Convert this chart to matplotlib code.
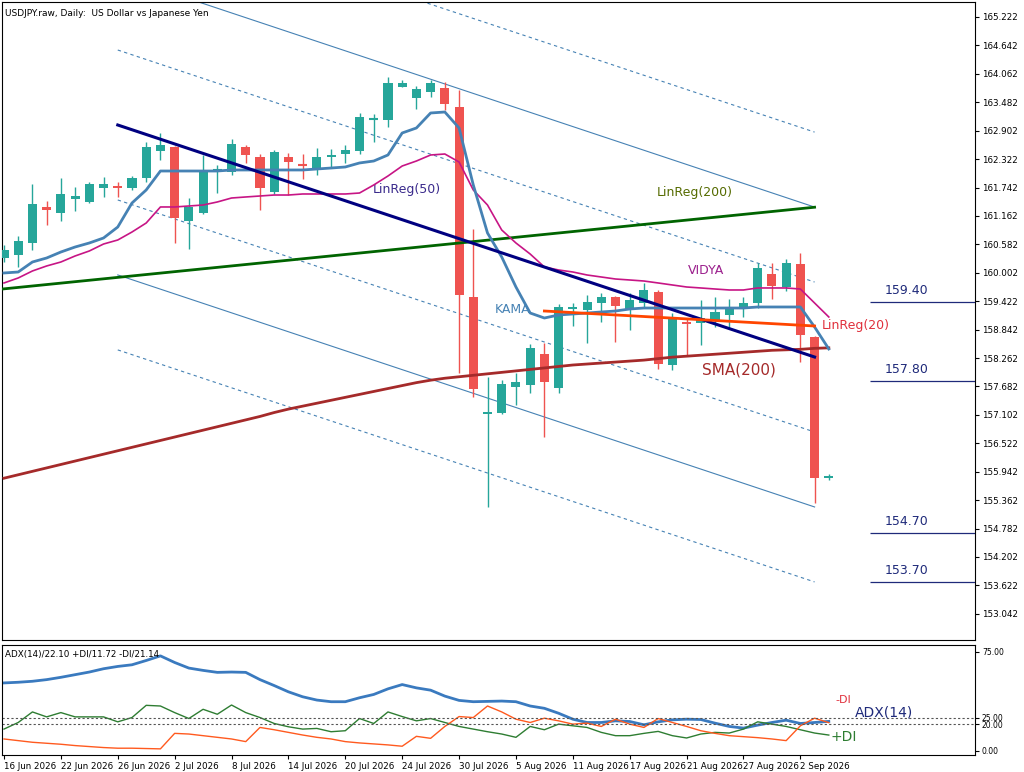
import matplotlib
matplotlib.use("Agg")
import matplotlib.pyplot as plt
import numpy as np

# --- data ---
dates = ["16 Jun 2026", "22 Jun 2026", "26 Jun 2026", "2 Jul 2026", "8 Jul 2026", "14 Jul 2026",
         "20 Jul 2026", "24 Jul 2026", "30 Jul 2026", "5 Aug 2026", "11 Aug 2026", "17 Aug 2026",
         "21 Aug 2026", "27 Aug 2026", "2 Sep 2026"]

opens = [160.304, 160.365, 160.610, 161.345, 161.222, 161.508, 161.447, 161.732, 161.773, 161.732,
         161.936, 162.487, 162.569, 161.059, 161.222, 162.079, 162.059, 162.569, 162.365, 161.651,
         162.365, 162.202, 162.140, 162.365, 162.426, 162.487, 163.140, 163.120, 163.793, 163.569,
         163.692, 163.773, 163.385, 159.508, 157.120, 157.141, 157.671, 157.712, 158.345, 157.651,
         159.263, 159.243, 159.385, 159.508, 159.243, 159.385, 159.610, 158.120, 158.998, 158.978,
         159.039, 159.141, 159.283, 159.385, 159.977, 159.712, 160.181, 158.692, 155.814]
highs = [160.569, 160.753, 161.814, 161.467, 161.936, 161.753, 161.855, 161.957, 161.855, 161.977,
         162.671, 162.855, 162.589, 161.528, 162.406, 162.202, 162.732, 162.610, 162.426, 162.508,
         162.447, 162.426, 162.549, 162.528, 162.610, 163.263, 163.243, 163.998, 163.936, 163.814,
         163.936, 163.896, 163.732, 160.896, 157.875, 157.814, 157.957, 158.549, 158.569, 159.365,
         159.385, 159.549, 159.589, 159.528, 159.589, 159.794, 159.651, 159.181, 159.079, 159.447,
         159.508, 159.467, 159.508, 160.202, 160.202, 160.283, 160.406, 158.712, 155.896]
lows = [160.222, 160.120, 160.467, 160.977, 161.059, 161.263, 161.426, 161.549, 161.549, 161.692,
        161.855, 162.304, 160.610, 160.488, 161.200, 161.630, 161.998, 162.243, 161.283, 161.610,
        161.589, 161.916, 161.998, 162.161, 162.243, 162.426, 162.671, 162.977, 163.793, 163.344,
        163.589, 163.324, 157.957, 157.467, 155.222, 157.120, 157.304, 157.549, 156.651, 157.549,
        158.916, 158.569, 158.998, 158.589, 158.835, 159.283, 158.039, 158.018, 158.324, 158.528,
        158.896, 158.875, 159.100, 159.283, 159.467, 159.630, 158.181, 155.304, 155.773]
closes = [160.467, 160.651, 161.406, 161.283, 161.610, 161.569, 161.814, 161.814, 161.732, 161.936,
          162.569, 162.610, 161.120, 161.345, 162.059, 162.100, 162.630, 162.406, 161.732, 162.467,
          162.263, 162.181, 162.365, 162.406, 162.508, 163.181, 163.161, 163.875, 163.875, 163.753,
          163.875, 163.447, 159.549, 157.630, 157.161, 157.732, 157.773, 158.467, 157.773, 159.304,
          159.304, 159.406, 159.508, 159.324, 159.447, 159.651, 158.141, 159.059, 158.957, 159.079,
          159.202, 159.304, 159.385, 160.100, 159.732, 160.202, 158.733, 155.814, 155.855]

kama = [159.998, 160.018, 160.222, 160.304, 160.426, 160.528, 160.610, 160.712, 160.936, 161.426,
        161.692, 162.079, 162.079, 162.079, 162.079, 162.079, 162.100, 162.100, 162.100, 162.100,
        162.100, 162.100, 162.120, 162.140, 162.161, 162.243, 162.283, 162.406, 162.855, 162.957,
        163.263, 163.283, 162.957, 161.794, 160.814, 160.324, 159.712, 159.181, 159.079, 159.141,
        159.161, 159.181, 159.202, 159.222, 159.263, 159.283, 159.283, 159.283, 159.283, 159.283,
        159.283, 159.283, 159.283, 159.304, 159.304, 159.304, 159.304, 158.896, 158.447]
vidya = [159.794, 159.896, 160.039, 160.141, 160.222, 160.345, 160.447, 160.589, 160.671, 160.834,
         161.018, 161.345, 161.345, 161.365, 161.385, 161.447, 161.528, 161.549, 161.569, 161.589,
         161.589, 161.610, 161.610, 161.610, 161.610, 161.630, 161.794, 161.977, 162.181, 162.283,
         162.406, 162.426, 162.263, 161.692, 161.385, 160.875, 160.610, 160.385, 160.120, 160.059,
         160.018, 159.957, 159.916, 159.875, 159.855, 159.834, 159.794, 159.753, 159.712, 159.692,
         159.671, 159.651, 159.651, 159.692, 159.692, 159.692, 159.671, 159.385, 159.100]
sma200 = [155.81, 155.88, 155.95, 156.02, 156.09, 156.16, 156.23, 156.30, 156.37, 156.44,
          156.51, 156.58, 156.65, 156.72, 156.79, 156.86, 156.93, 157.00, 157.07, 157.15,
          157.22, 157.28, 157.34, 157.40, 157.46, 157.52, 157.58, 157.64, 157.70, 157.76,
          157.81, 157.85, 157.88, 157.91, 157.94, 157.97, 158.00, 158.03, 158.06, 158.09,
          158.12, 158.14, 158.16, 158.18, 158.20, 158.22, 158.25, 158.28, 158.30, 158.32,
          158.34, 158.36, 158.38, 158.40, 158.42, 158.43, 158.44, 158.46, 158.47]

linreg50_bars = [8, 57]
linreg50_vals = [163.018, 158.283]
channel_offsets = [-4.59, -1.53, 1.53, 4.59]   # dotted
channel_solid = [-3.06, 3.06]
linreg200_bars = [-0.14, 57]
linreg200_vals = [159.67, 161.34]
linreg20_bars = [38, 57]
linreg20_vals = [159.222, 158.916]

levels = [159.40, 157.80, 154.70, 153.70]

adx = [51.25, 51.75, 52.5, 53.75, 55.5, 57.5, 59.5, 62, 63.75, 65, 68.25, 71.75, 66.75, 62.5, 60.75,
       59.25, 59.5, 59.25, 53.75, 49.25, 44.5, 40.75, 38.25, 37, 37, 40, 42.5, 46.75, 50, 47.5,
       45.75, 41.25, 38, 37, 37.25, 37.5, 37, 33.75, 32, 28.25, 23.75, 21.25, 21.25, 22.5, 22,
       19.5, 21.75, 23.25, 23.75, 23.5, 20.75, 18.25, 17, 19.25, 21.25, 23, 20.5, 21.25, 22.1]
plus_di = [16.25, 21.25, 29.25, 25.5, 28.75, 25.5, 25.5, 25.5, 21.75, 25, 34.25, 33.75, 28.75, 24.25,
           31.25, 27.5, 34.5, 28.75, 25, 20.5, 18, 16.25, 16.75, 14.25, 15, 24.25, 20.5, 29.25,
           25.75, 22.5, 24.25, 21.25, 18.25, 16.25, 14.25, 12.5, 10, 18.25, 15.75, 20, 18.75, 17.5,
           13.75, 11.25, 11.25, 13, 14.5, 11.25, 9.5, 12.5, 13.75, 13.25, 16.25, 21.75, 20, 18.25,
           15.75, 13.25, 11.72]
minus_di = [8.75, 7.5, 6.25, 5.5, 4.75, 3.75, 3, 2.25, 1.75, 1.75, 1.5, 1.25, 13, 12.5, 11.25, 10,
            8.75, 6.75, 17.5, 15.75, 13.75, 11.75, 10, 8.75, 6.75, 5.75, 5, 4.25, 3.25, 10.75, 9.25,
            18.25, 25.75, 25, 33.75, 29.25, 23.75, 21.25, 24.5, 22.5, 20, 20.75, 18.25, 23.75, 20,
            17.5, 24.25, 21.25, 18.25, 15, 13, 11.25, 10.5, 9.75, 8.75, 7.5, 18.75, 24.5, 21.14]

UP, DOWN = "#26a69a", "#ef5350"

fig = plt.figure(figsize=(10.24, 7.72), dpi=100)
ax = fig.add_axes([2 / 1024, 132 / 772, 973 / 1024, 638 / 772])
ax2 = fig.add_axes([2 / 1024, 17 / 772, 973 / 1024, 110 / 772], sharex=ax)

x = np.arange(len(opens))
xmin, xmax = -0.14, 68.28

# channel around LinReg(50)
b = np.array(linreg50_bars)
v = np.array(linreg50_vals)
for off in channel_offsets:
    ax.plot(b, v + off, color="#4682b4", lw=0.8, ls=(0, (3, 3)), zorder=1)
for off in channel_solid:
    ax.plot(b, v + off, color="#4682b4", lw=0.8, zorder=1)

# candles
for i in x:
    o, h, l, c = opens[i], highs[i], lows[i], closes[i]
    col = UP if c >= o else DOWN
    ax.vlines(i, l, h, color=col, lw=1, zorder=3)
    lo, hi = min(o, c), max(o, c)
    if hi - lo < 0.03:
        ax.hlines((o + c) / 2, i - 0.32, i + 0.32, color=col, lw=1.5, zorder=3)
    else:
        ax.bar(i, hi - lo, bottom=lo, width=0.64, color=col, zorder=3)

ax.plot(linreg200_bars, linreg200_vals, color="#006400", lw=2, zorder=4)
ax.plot(x, sma200, color="#a52a2a", lw=2, zorder=4)
ax.plot(x, vidya, color="#c71585", lw=1.2, zorder=4)
ax.plot(x, kama, color="#4682b4", lw=2, zorder=5)
ax.plot(b, v, color="#000080", lw=2.2, zorder=5)
ax.plot(linreg20_bars, linreg20_vals, color="#ff4500", lw=2, zorder=5)

ax.text(25.9, 161.64, "LinReg(50)", color="#3a2a8c", fontsize=9)
ax.text(45.9, 161.56, "LinReg(200)", color="#556b00", fontsize=9)
ax.text(48.1, 159.97, "VIDYA", color="#9b1e8c", fontsize=9)
ax.text(34.5, 159.19, "KAMA", color="#4682b4", fontsize=9)
ax.text(57.5, 158.85, "LinReg(20)", color="#e0303c", fontsize=9)
ax.text(49.1, 157.92, "SMA(200)", color="#a52a2a", fontsize=11)

for lv in levels:
    ax.hlines(lv, 60.9, xmax, color="#1f2a7a", lw=0.9)
    ax.text(61.9, lv + 0.1, f"{lv:.2f}", color="#1f2a7a", fontsize=9, va="bottom")

ax.text(0.1, 165.2, "USDJPY.raw, Daily:  US Dollar vs Japanese Yen", fontsize=6.5, va="bottom")

ax.set_xlim(xmin, xmax)
ax.set_ylim(152.508, 165.528)
ticks = 165.222 - 0.58 * np.arange(22)
ax.yaxis.tick_right()
ax.set_yticks(ticks)
ax.set_yticklabels([f"{t:.3f}" for t in ticks], fontsize=6.3)
ax.tick_params(axis="y", length=3, pad=2)
ax.tick_params(axis="x", bottom=False, labelbottom=False)

# ADX panel
ax2.plot(x, adx, color="#3a7abf", lw=2)
ax2.plot(x, plus_di, color="#2e7d32", lw=1)
ax2.plot(x, minus_di, color="#ff5a1f", lw=1)
for lv in [25, 20]:
    ax2.axhline(lv, color="#555555", lw=0.8, ls=(0, (2, 2)))
ax2.set_ylim(-3.4, 80)
ax2.yaxis.tick_right()
ax2.set_yticks([75, 25, 20, 0])
ax2.set_yticklabels(["75.00", "25.00", "20.00", "0.00"], fontsize=5.5)
ax2.tick_params(axis="y", length=3, pad=2)
ax2.text(0.1, 73, "ADX(14)/22.10 +DI/11.72 -DI/21.14", fontsize=6.3, va="center")
ax2.text(58.5, 36, "-DI", color="#e0303c", fontsize=8)
ax2.text(59.8, 26, "ADX(14)", color="#1f2a7a", fontsize=10)
ax2.text(58.1, 7, "+DI", color="#2e7d32", fontsize=10)

tick_pos = np.arange(len(dates)) * 4
ax2.set_xticks(tick_pos)
ax2.set_xticklabels(dates, fontsize=6.3, ha="left")
ax2.tick_params(axis="x", length=3, pad=2)

fig.savefig("out.png", dpi=100)
